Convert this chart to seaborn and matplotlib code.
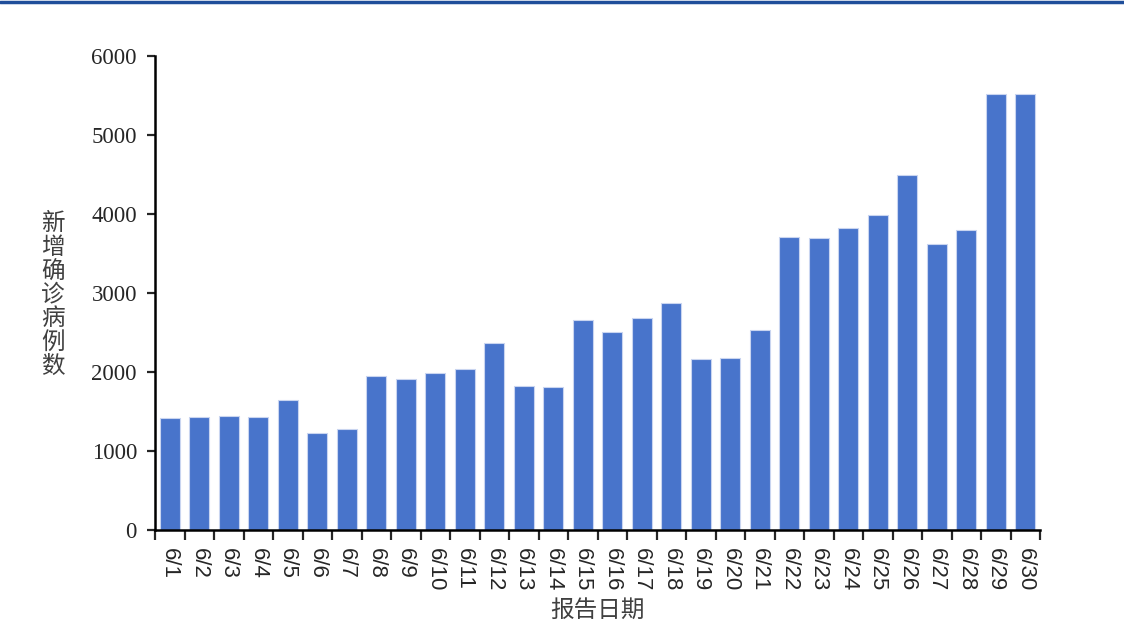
import matplotlib
matplotlib.use("Agg")
import matplotlib.pyplot as plt
from matplotlib.lines import Line2D
from matplotlib.ticker import FixedLocator
import seaborn as sns
import pandas as pd

# Datos: nuevos casos confirmados por fecha de reporte
fechas = [f"6/{d}" for d in range(1, 31)]
casos = [1415, 1430, 1443, 1430, 1646, 1228, 1278, 1949, 1911, 1987,
         2038, 2367, 1823, 1810, 2658, 2506, 2684, 2873, 2165, 2177,
         2532, 3709, 3696, 3823, 3987, 4494, 3620, 3797, 5519, 5519]
etiqueta_y = "新增确诊病例数"
etiqueta_x = "报告日期"

data = pd.DataFrame({"fecha": fechas, "casos": casos})

sns.set_style("white")
plt.rcParams["font.family"] = ["Liberation Serif", "Noto Sans CJK SC", "DejaVu Sans"]

fig = plt.figure(figsize=(11.24, 6.41), dpi=100)
ax = fig.add_axes([155 / 1124, 1 - 530 / 641, 885 / 1124, 474 / 641])

sns.barplot(data=data, x="fecha", y="casos", color="#4874CB", saturation=1,
            width=0.68, edgecolor="#c9d5f0", linewidth=0.8, ax=ax)

ax.set_xlim(-0.5, len(fechas) - 0.5)
ax.set_ylim(0, 6000)
ax.set_yticks(range(0, 6001, 1000))
ax.tick_params(axis="y", labelsize=16.5, length=6, width=1.6, direction="out",
               left=True, pad=7)

# Ticks menores en los limites de cada categoria
ax.xaxis.set_minor_locator(FixedLocator([i - 0.5 for i in range(len(fechas) + 1)]))
ax.tick_params(axis="x", which="major", length=0, pad=13)
ax.tick_params(axis="x", which="minor", length=7, width=1.6, direction="out", bottom=True)
for lab in ax.get_xticklabels():
    lab.set_rotation(270)
    lab.set_fontfamily(["Liberation Sans", "DejaVu Sans"])
    lab.set_fontsize(16)
    lab.set_ha("center")
    lab.set_va("top")

for s in ["top", "right"]:
    ax.spines[s].set_visible(False)
for s in ["left", "bottom"]:
    ax.spines[s].set_color("black")
    ax.spines[s].set_linewidth(1.8)

ax.set_xlabel("")
ax.set_ylabel("")
fig.text(53 / 1124, 1 - 295 / 641, "\n".join(etiqueta_y), ha="center", va="center",
         fontsize=17, color="#404040", linespacing=1.05,
         family=["Noto Sans CJK SC", "DejaVu Sans"])
fig.text(597 / 1124, 1 - 610 / 641, etiqueta_x, ha="center", va="center",
         fontsize=17, color="#404040", family=["Noto Sans CJK SC", "DejaVu Sans"])

# Linea azul superior
fig.add_artist(Line2D([0, 1], [1 - 1.5 / 641, 1 - 1.5 / 641], color="#1F4E9A",
                      linewidth=2.5, transform=fig.transFigure))

fig.savefig("out.png", dpi=100)
